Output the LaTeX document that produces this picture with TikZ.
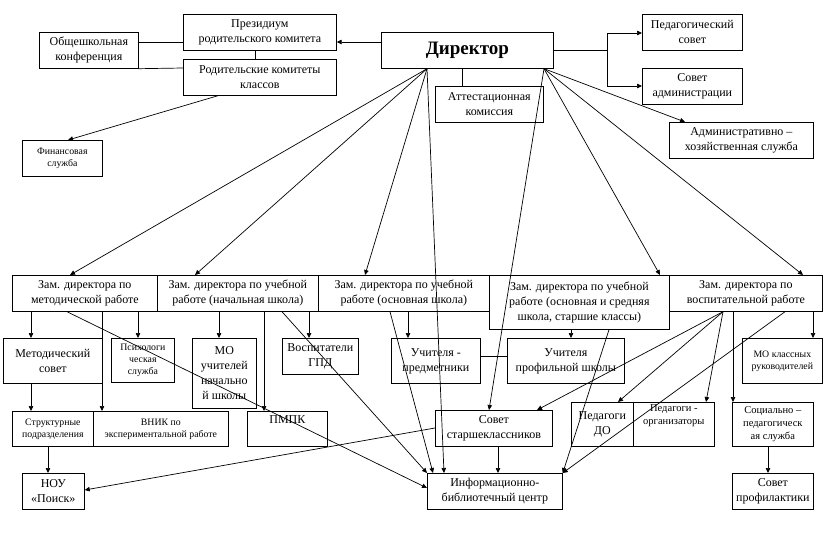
\documentclass[tikz,border=0pt]{standalone}
\usepackage{fontspec}
\setmainfont{Liberation Serif}
\usetikzlibrary{arrows.meta}
\newcommand\mybox[7]{\node[#6, anchor=north west, minimum width={(#4-#2)*1pt}, minimum height={(#5-#3)*1pt}] (#1) at (#2,#3) {#7};}
\begin{document}
\begin{tikzpicture}[x=1pt,y=-1pt,
  box/.style={draw, line width=0.7pt, align=center, inner sep=1pt, font=\fontsize{12}{15}\selectfont},
  sbox/.style={box, font=\fontsize{9.8}{12}\selectfont},
  mbox/.style={box, font=\fontsize{10.5}{13}\selectfont},
  dbox/.style={box, font=\fontsize{19}{22}\selectfont\bfseries},
  arr/.style={line width=0.7pt, -{Triangle[length=5pt,width=4.5pt]}},
  ln/.style={line width=0.7pt}]
\useasboundingbox (0,0) rectangle (826,536);
\fill[white] (0,0) rectangle (826,536);
% top
\mybox{prez}{183}{14}{336}{50}{box}{Президиум\\родительского комитета}
\mybox{conf}{39}{32}{138}{68}{box}{Общешкольная\\конференция}
\mybox{rodkom}{183}{59}{336}{95}{box}{Родительские комитеты\\классов}
\mybox{fin}{22}{140}{102}{176}{sbox}{Финансовая\\служба}
\mybox{dir}{381}{32}{553}{68}{dbox}{Директор}
\mybox{pedsov}{642}{14}{742}{50}{box}{Педагогический\\совет}
\mybox{sovadm}{642}{68}{742}{104}{box}{Совет\\администрации}
\mybox{attest}{435}{86}{543}{122}{box}{Аттестационная\\комиссия}
\mybox{adm}{669}{122}{813}{158}{box}{Административно –\\хозяйственная служба}
% deputies
\mybox{zmet}{12}{275}{157}{311}{box}{Зам. директора по\\методической работе}
\mybox{znach}{157}{275}{318}{311}{box}{Зам. директора по учебной\\работе (начальная школа)}
\mybox{zosn}{318}{275}{489}{311}{box}{Зам. директора по учебной\\работе (основная школа)}
\mybox{zsr}{489}{275}{669}{329}{box}{Зам. директора по учебной\\работе (основная и средняя\\школа, старшие классы)}
\mybox{zvos}{669}{275}{822}{311}{box}{Зам. директора по\\воспитательной работе}
% level 2
\mybox{metsov}{3}{338}{102}{383}{box}{Методический\\совет}
\mybox{psy}{111}{338}{174}{382}{sbox}{Психологи\\ческая\\служба}
\mybox{mouch}{192}{338}{256}{408}{box}{МО\\учителей\\начально\\й школы}
\mybox{gpd}{282}{338}{358}{374}{box}{Воспитатели\\ГПД}
\mybox{uchpr}{391}{338}{480}{383}{box}{Учителя -\\предметники}
\mybox{uchprof}{507}{338}{624}{383}{box}{Учителя\\профильной школы}
\mybox{mokl}{742}{338}{822}{383}{sbox}{МО классных\\руководителей}
% level 3
\mybox{strukt}{12}{411}{93}{446}{sbox}{Структурные\\подразделения}
\mybox{vnik}{93}{411}{228}{446}{sbox}{ВНИК по\\экспериментальной работе}
\mybox{pmpk}{247}{411}{327}{446}{box}{\raisebox{5pt}[0pt][0pt]{ПМПК}}
\mybox{sovst}{435}{410}{552}{446}{box}{Совет\\старшеклассников}
\mybox{pedo}{571}{402}{633}{446}{box}{Педагоги\\ДО}
\mybox{pedorg}{633}{402}{714}{446}{mbox}{Педагоги -\\организаторы\\[6pt]}
\mybox{socped}{732}{402}{813}{446}{mbox}{Социально –\\педагогическ\\ая служба}
% level 4
\mybox{nou}{22}{473}{84}{509}{box}{НОУ\\«Поиск»}
\mybox{inf}{427}{473}{562}{509}{box}{Информационно-\\библиотечный центр}
\mybox{sovprof}{732}{473}{813}{509}{box}{Совет\\профилактики}
% connectors top
\draw[arr] ([yshift=-10pt]dir.north west) -- ([yshift=-28pt]prez.north east);
\draw[ln] ([yshift=-10pt]conf.north east) -- ([yshift=-28pt]prez.north west);
\draw[ln] (conf.south east) -- ([yshift=-9pt]rodkom.north west);
\draw[ln] ([xshift=72pt]prez.south west) -- ([xshift=72pt]rodkom.north west);
\draw[arr] ([xshift=35pt]rodkom.south west) -- ([xshift=46pt]fin.north west);
\draw[arr] (dir.east) -- ++(54,0) |- ([yshift=-19pt]pedsov.north west);
\draw[arr] (dir.east) -- ++(54,0) |- ([yshift=-18pt]sovadm.north west);
\draw[ln] ([xshift=81pt]dir.south west) -- ([xshift=27pt]attest.north west);
\draw[arr] ([xshift=163pt]dir.south west) -- ([xshift=16pt]adm.north west);
% director to deputies
\draw[arr] ([xshift=46pt]dir.south west) -- ([xshift=58pt]zmet.north west);
\draw[arr] ([xshift=46pt]dir.south west) -- ([xshift=38pt]znach.north west);
\draw[arr] ([xshift=46pt]dir.south west) -- ([xshift=47pt]zosn.north west);
\draw[arr] ([xshift=46pt]dir.south west) -- ([xshift=17pt]inf.north west);
\draw[arr] ([xshift=163pt]dir.south west) -- ([xshift=171pt]zsr.north west);
\draw[arr] ([xshift=163pt]dir.south west) -- ([xshift=134pt]zvos.north west);
\draw[arr] ([xshift=163pt]dir.south west) -- ([xshift=54pt]sovst.north west);
% methodical
\draw[arr] ([xshift=19pt]zmet.south west) -- ([xshift=28pt]metsov.north west);
\draw[arr] ([xshift=126pt]zmet.south west) -- ([xshift=27pt]psy.north west);
\draw[arr] ([xshift=90pt]zmet.south west) -- ([xshift=9pt]vnik.north west);
\draw[arr] ([xshift=55pt]zmet.south west) -- ([yshift=-15pt]inf.north west);
\draw[arr] ([xshift=28pt]metsov.south west) -- ([xshift=19pt]strukt.north west);
\draw[arr] ([xshift=36pt]strukt.south west) -- ([xshift=26pt]nou.north west);
% primary
\draw[arr] ([xshift=62pt]znach.south west) -- ([xshift=27pt]mouch.north west);
\draw[arr] ([xshift=107pt]znach.south west) -- ([xshift=17pt]pmpk.north west);
\draw[arr] ([xshift=152pt]znach.south west) -- ([xshift=27pt]gpd.north west);
\draw[arr] ([xshift=125pt]znach.south west) -- (inf.north west);
% basic
\draw[arr] ([xshift=90pt]zosn.south west) -- ([xshift=17pt]uchpr.north west);
\draw[arr] ([xshift=72pt]zosn.south west) -- ([xshift=6pt]inf.north west);
\draw[ln] ([yshift=-18pt]uchpr.north east) -- ([yshift=-18pt]uchprof.north west);
% senior
\draw[arr] ([xshift=82pt]zsr.south west) -- ([xshift=64pt]uchprof.north west);
\draw[arr] ([xshift=120pt]zsr.south west) -- (inf.north east);
% upbringing
\draw[arr] ([xshift=54pt]zvos.south west) -- ([xshift=102pt]sovst.north west);
\draw[arr] ([xshift=54pt]zvos.south west) -- ([xshift=47pt]pedo.north west);
\draw[arr] ([xshift=54pt]zvos.south west) -- ([xshift=73pt]pedorg.north west);
\draw[arr] ([xshift=64pt]zvos.south west) -- ([xshift=1pt]socped.north west);
\draw[arr] ([xshift=144pt]zvos.south west) -- ([xshift=71pt]mokl.north west);
\draw[arr] ([xshift=116pt]zvos.south west) -- (inf.north east);
\draw[arr] ([xshift=36pt]socped.south west) -- ([xshift=36pt]sovprof.north west);
% council
\draw[arr] ([xshift=63pt]sovst.south west) -- ([xshift=71pt]inf.north west);
\draw[arr] ([yshift=-18pt]sovst.north west) -- ([yshift=-17pt]nou.north east);
\end{tikzpicture}
\end{document}
